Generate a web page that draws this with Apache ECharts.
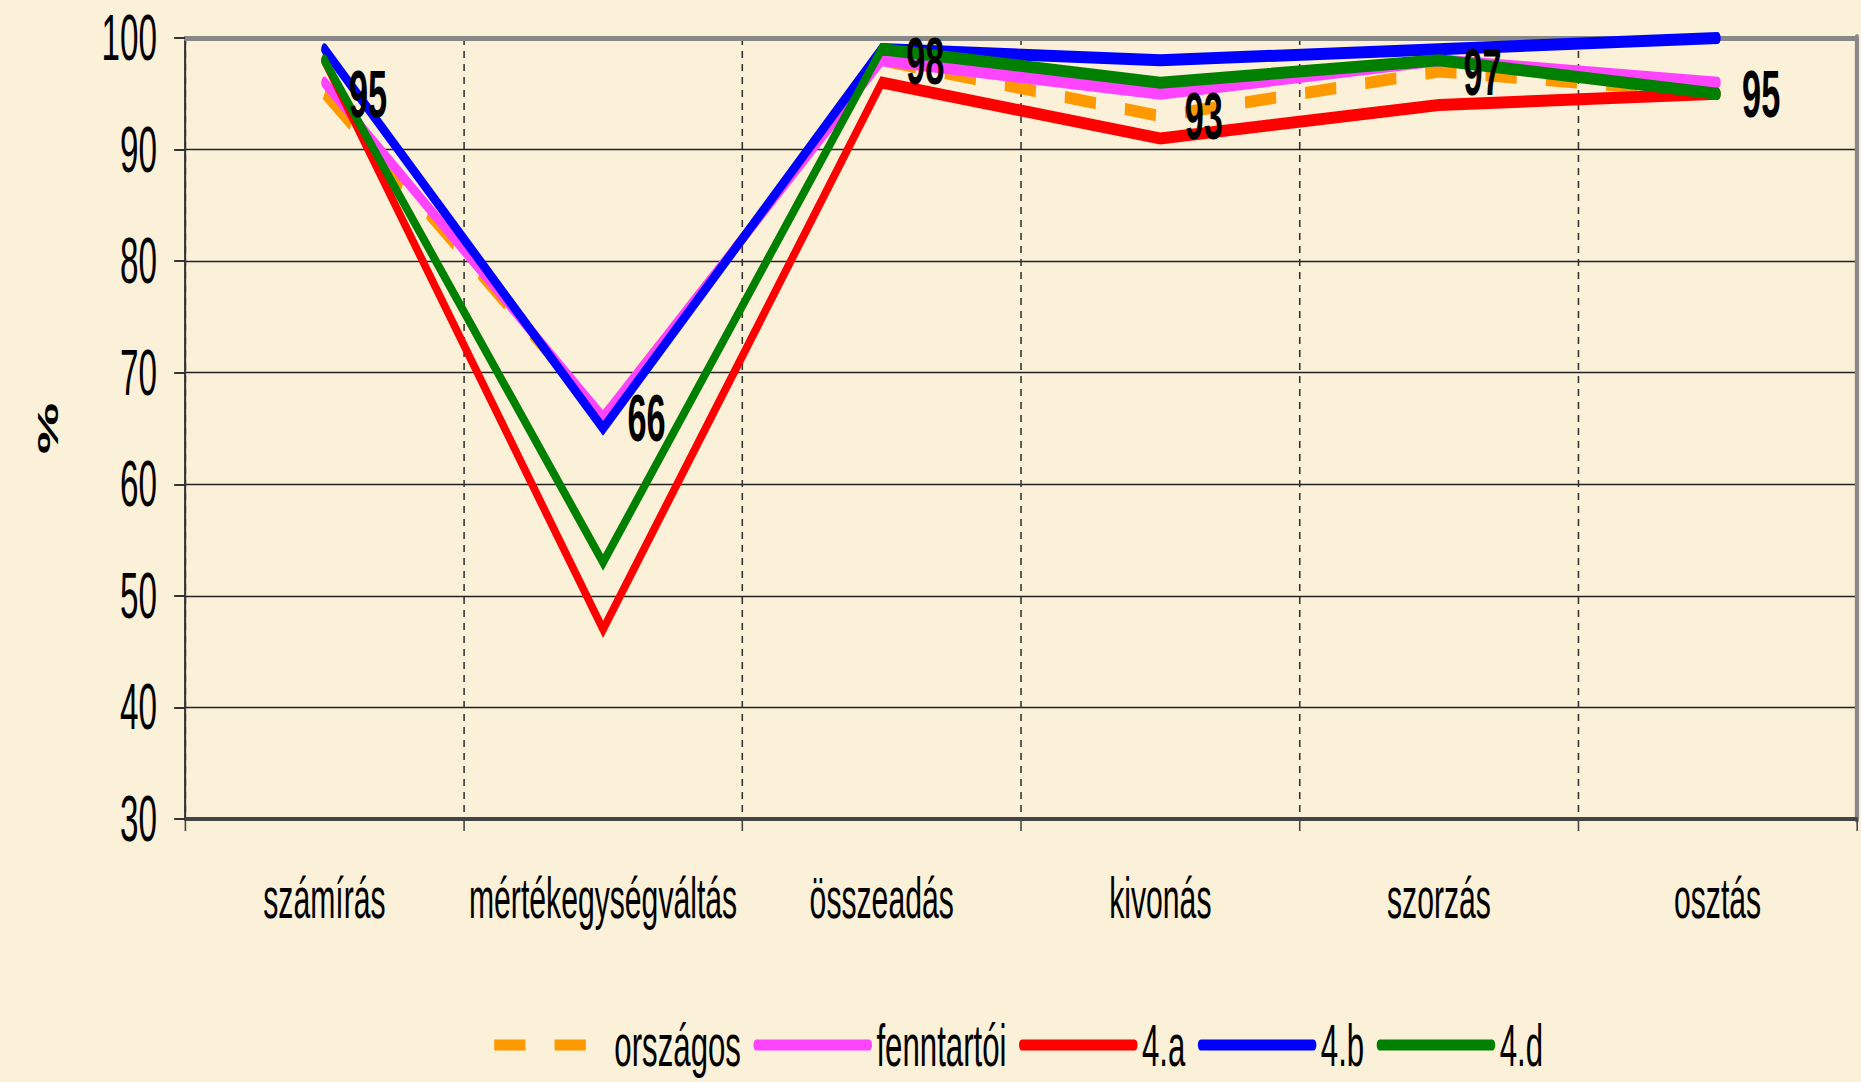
<!DOCTYPE html>
<html>
<head>
<meta charset="utf-8">
<script src="https://cdn.jsdelivr.net/npm/echarts@6/dist/echarts.min.js"></script>
<style>
html,body{margin:0;padding:0;overflow:hidden;background:#FBF0D8;}
#wrap{width:1861px;height:1082px;overflow:hidden;background:#FBF0D8;}
#c{width:3579px;height:1082px;transform:scaleX(0.52);transform-origin:0 0;}
</style>
</head>
<body>
<div id="wrap"><div id="c"></div></div>
<script>
// Data
const categories = ['számírás', 'mértékegységváltás', 'összeadás', 'kivonás', 'szorzás', 'osztás'];
const orszagos   = [95, 66, 98, 93, 97, 95];
const fenntartoi = [96, 66, 98, 95, 98, 96];
const a4 = [98, 47, 96, 91, 94, 95];
const b4 = [99, 65, 99, 98, 99, 100];
const d4 = [98, 53, 99, 96, 98, 95];
const yTicks = { min: 30, max: 100, interval: 10 };
const seriesNames = ['országos', 'fenntartói', '4.a', '4.b', '4.d'];

const FONT = "'Liberation Sans', Arial, sans-serif";
const chart = echarts.init(document.getElementById('c'), null, { renderer: 'svg' });

function lineSeries(name, data, color, extra) {
  return Object.assign({
    name: name, type: 'line', data: data,
    showSymbol: false, symbol: 'none',
    lineStyle: { color: color, width: 12, cap: 'round', join: 'miter' },
    itemStyle: { color: color },
    emphasis: { disabled: true },
    animation: false
  }, extra || {});
}

chart.setOption({
  backgroundColor: '#FBF0D8',
  animation: false,
  grid: { left: 356, right: 8, top: 38, bottom: 263, containLabel: false },
  legend: {
    data: seriesNames,
    left: 940, top: 1010,
    itemWidth: 217, itemHeight: 24, itemGap: 24,
    itemStyle: { opacity: 0 },
    lineStyle: { width: 11 },
    textStyle: { fontSize: 60, lineHeight: 60, padding: [0, 0, 0, 9], fontFamily: FONT, color: '#000' }
  },
  xAxis: [{
    type: 'category', data: categories, boundaryGap: true,
    axisLine: { lineStyle: { color: '#444', width: 4 } },
    axisTick: { show: true, length: 12, lineStyle: { color: '#444', width: 3 } },
    axisLabel: { fontSize: 58, fontFamily: FONT, color: '#000', margin: 50, interval: 0 },
    splitLine: { show: true, lineStyle: { color: '#333', width: 3, type: [7, 6] } }
  }, {
    type: 'category', data: categories, position: 'top', boundaryGap: true,
    axisLine: { lineStyle: { color: '#888', width: 5 } },
    axisTick: { show: false }, axisLabel: { show: false }, splitLine: { show: false }
  }],
  yAxis: [{
    type: 'value', min: yTicks.min, max: yTicks.max, interval: yTicks.interval,
    name: '%', nameLocation: 'middle', nameRotate: 90, nameGap: 236,
    nameTextStyle: { fontSize: 58, fontWeight: 'bold', fontFamily: FONT, color: '#000' },
    axisLine: { show: true, lineStyle: { color: '#333', width: 4 } },
    axisTick: { show: true, length: 21, lineStyle: { color: '#333', width: 2 } },
    axisLabel: { fontSize: 64, fontFamily: FONT, color: '#000', margin: 54 },
    splitLine: { show: true, lineStyle: { color: '#222', width: 1.3 } }
  }, {
    type: 'value', min: yTicks.min, max: yTicks.max, interval: yTicks.interval, position: 'right',
    axisLine: { show: true, lineStyle: { color: '#888', width: 8 } },
    axisTick: { show: false }, axisLabel: { show: false }, splitLine: { show: false }
  }],
  series: [
    lineSeries('országos', orszagos, '#FF9900', { lineStyle: { color: '#FF9900', width: 12, type: [60, 56], cap: 'butt', join: 'miter' } }),
    lineSeries('fenntartói', fenntartoi, '#FF44FF'),
    lineSeries('4.a', a4, '#FF0000'),
    lineSeries('4.b', b4, '#0000FF'),
    lineSeries('4.d', d4, '#008000'),
    {
      name: 'országos-címke', type: 'line', data: orszagos, z: 10,
      symbol: 'circle', symbolSize: 2, showSymbol: true,
      lineStyle: { width: 0, opacity: 0 },
      itemStyle: { color: 'rgba(0,0,0,0)', borderWidth: 0 },
      label: { show: true, position: 'right', distance: 46, fontSize: 66, fontWeight: 'bold', fontFamily: FONT, color: '#000' },
      emphasis: { disabled: true }, animation: false
    }
  ]
});
</script>
</body>
</html>
